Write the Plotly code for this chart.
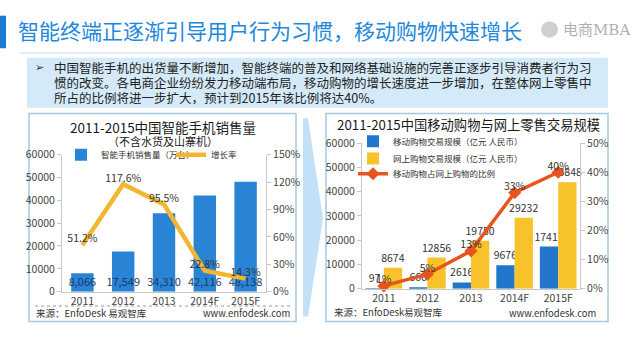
import plotly.graph_objects as go

# ---------------- data ----------------
years = ["2011", "2012", "2013", "2014F", "2015F"]
phone_sales = [8066, 17549, 34310, 42116, 48138]          # 万台
phone_growth = [51.2, 117.6, 95.5, 22.8, 14.3]             # %
mobile_trade = [97, 666, 2616, 9676, 17417]                # 亿元
online_trade = [8674, 12856, 19750, 29232, 43848]          # 亿元
mobile_share = [1, 5, 13, 33, 40]                          # %

left_y_ticks = [0, 10000, 20000, 30000, 40000, 50000, 60000]

W, H = 640, 360
FONT = "Noto Sans CJK SC, Noto Sans, sans-serif"


def px(x):
    return x / W


def py(y):
    return 1 - y / H


BLUE = "#2a84d6"
BLUE2 = "#2277cc"
GOLD = "#f2b630"
YELLOW = "#f7c22a"
RED = "#e8541e"

fig = go.Figure()

# ---- left chart ----
fig.add_trace(go.Bar(
    x=years, y=phone_sales, name="智能手机销售量（万台）",
    marker=dict(color=BLUE, line=dict(width=0)), width=0.55,
    text=[f"{v:,}" for v in phone_sales], textposition="inside",
    insidetextanchor="start", constraintext="none", textangle=0,
    textfont=dict(size=11, color="#1b3a66", family=FONT),
    xaxis="x", yaxis="y", legend="legend",
))
fig.add_trace(go.Scatter(
    x=years, y=phone_growth, name="增长率", mode="lines",
    line=dict(color=GOLD, width=4.5),
    xaxis="x", yaxis="y2", legend="legend5",
))
fig.add_trace(go.Scatter(
    x=years, y=phone_growth, mode="text", showlegend=False,
    text=[f"{v:.1f}%" for v in phone_growth], textposition="top center",
    textfont=dict(size=10.5, color="#333", family=FONT), cliponaxis=False,
    xaxis="x", yaxis="y2", hoverinfo="skip",
))

# ---- right chart ----
fig.add_trace(go.Bar(
    x=years, y=mobile_trade, name="移动购物交易规模（亿元 人民币）",
    marker=dict(color=BLUE2, line=dict(width=0)), width=0.42, offset=-0.42,
    text=[str(v) for v in mobile_trade], textposition="outside",
    constraintext="none", textangle=0, cliponaxis=False,
    textfont=dict(size=10.5, color="#333", family=FONT),
    xaxis="x2", yaxis="y3", legend="legend2",
))
fig.add_trace(go.Bar(
    x=years, y=online_trade, name="网上购物交易规模（亿元 人民币）",
    marker=dict(color=YELLOW, line=dict(width=0)), width=0.42, offset=0,
    text=[str(v) for v in online_trade], textposition="outside",
    constraintext="none", textangle=0, cliponaxis=False,
    textfont=dict(size=10.5, color="#333", family=FONT),
    xaxis="x2", yaxis="y3", legend="legend3",
))
fig.add_trace(go.Scatter(
    x=years, y=mobile_share, name="移动购物占网上购物的比例",
    mode="lines+markers", line=dict(color=RED, width=3.5),
    marker=dict(symbol="diamond", size=10, color=RED),
    xaxis="x2", yaxis="y4", legend="legend4", cliponaxis=False,
))
fig.add_trace(go.Scatter(
    x=years, y=mobile_share, mode="text", showlegend=False,
    text=[f"{v}%" for v in mobile_share], textposition="top center",
    textfont=dict(size=10.5, color="#333", family=FONT), cliponaxis=False,
    xaxis="x2", yaxis="y4", hoverinfo="skip",
))

axis_common = dict(showgrid=False, zeroline=False, showline=True,
                   linecolor="#c8c8c8", linewidth=1,
                   tickfont=dict(size=10.5, color="#444", family=FONT))

shapes = [
    # header bar & underline
    dict(type="rect", xref="paper", yref="paper", x0=0, x1=px(6), y0=py(42), y1=py(8),
         fillcolor="#1a7ad4", line=dict(width=0)),
    dict(type="line", xref="paper", yref="paper", x0=px(20), x1=px(600), y0=py(47), y1=py(47),
         line=dict(color="#bcdcf2", width=1)),
    # logo circle
    dict(type="circle", xref="paper", yref="paper", x0=px(541), x1=px(558), y0=py(31), y1=py(14),
         fillcolor="#cfcfcf", line=dict(width=0)),
    # text box
    dict(type="rect", xref="paper", yref="paper", x0=px(27), x1=px(608), y0=py(104), y1=py(52),
         fillcolor="#d4eaf8", line=dict(width=0), layer="below"),
    # panels
    dict(type="rect", xref="paper", yref="paper", x0=px(29), x1=px(296), y0=py(327), y1=py(110),
         fillcolor="white", line=dict(color="#a6c8e4", width=1.5), layer="below"),
    dict(type="rect", xref="paper", yref="paper", x0=px(326), x1=px(608), y0=py(327), y1=py(110),
         fillcolor="white", line=dict(color="#a6c8e4", width=1.5), layer="below"),
    # chevron arrow
    dict(type="path", xref="paper", yref="paper",
         path=(f"M {px(303)},{py(115)} L {px(308)},{py(115)} L {px(323)},{py(220)} "
               f"L {px(308)},{py(322)} L {px(303)},{py(322)} Z"),
         fillcolor="#c2e1f8", line=dict(width=0), layer="below"),
    # dotted line above source (left)
    dict(type="line", xref="paper", yref="paper", x0=px(35), x1=px(292), y0=py(311), y1=py(311),
         line=dict(color="#9a9a9a", width=1, dash="dot")),
]

ann = []


def A(text, x, y, size, color="#222", xanchor="left", family=FONT, yanchor="middle"):
    ann.append(dict(text=text, x=px(x), y=py(y), xref="paper", yref="paper",
                    xanchor=xanchor, yanchor=yanchor, showarrow=False,
                    font=dict(size=size, color=color, family=family)))


A("智能终端正逐渐引导用户行为习惯，移动购物快速增长", 16, 23, 21, "#2288dd")
A("电商MBA", 561, 23, 15, "#b0b0b0", family="DejaVu Serif, Noto Sans CJK SC")
A("➢", 33, 62, 11, "#333", family="DejaVu Sans")
A("中国智能手机的出货量不断增加，智能终端的普及和网络基础设施的完善正逐步引导消费者行为习", 52, 62, 12.5)
A("惯的改变。各电商企业纷纷发力移动端布局，移动购物的增长速度进一步增加，在整体网上零售中", 52, 78, 12.5)
A("所占的比例将进一步扩大，预计到2015年该比例将达40%。", 52, 93, 12.5)
A("2011-2015中国智能手机销售量", 163, 124, 13.5, "#1a1a1a", "center")
A("（不含水货及山寨机）", 163, 139, 11, "#1a1a1a", "center")
A("2011-2015中国移动购物与网上零售交易规模", 468, 122, 13.3, "#1a1a1a", "center")
A("来源：EnfoDesk 易观智库", 34, 318, 9.5, "#333")
A("www.enfodesk.com", 292, 318, 9.5, "#333", "right")
A("来源：EnfoDesk易观智库", 332, 317, 9.5, "#333")
A("www.enfodesk.com", 598, 318, 9.5, "#333", "right")


def leg(x, y):
    return dict(orientation="v", x=px(x), y=py(y), xanchor="left", yanchor="middle",
                font=dict(size=8.5, color="#333", family=FONT), bgcolor="rgba(0,0,0,0)",
                itemwidth=30)


fig.update_layout(
    width=W, height=H, margin=dict(l=0, r=0, t=0, b=0),
    paper_bgcolor="white", plot_bgcolor="rgba(0,0,0,0)",
    font=dict(family=FONT, color="#333"),
    barmode="overlay",
    shapes=shapes, annotations=ann,
    xaxis=dict(domain=[px(62), px(266)], anchor="y", type="category",
               range=[-0.5, 4.5], ticks="", **axis_common),
    yaxis=dict(domain=[py(296), py(153)], anchor="x", range=[0, 60000],
               tickvals=left_y_ticks, tickformat="d", ticks="outside", ticklen=4,
               tickcolor="#c8c8c8", **axis_common),
    yaxis2=dict(overlaying="y", side="right", anchor="x", range=[0, 150],
                tick0=0, dtick=30, ticksuffix="%", ticks="outside", ticklen=4,
                tickcolor="#c8c8c8", **axis_common),
    xaxis2=dict(domain=[px(362), px(580)], anchor="y3", type="category",
                range=[-0.5, 4.5], ticks="", **axis_common),
    yaxis3=dict(domain=[py(293), py(141)], anchor="x2", range=[0, 60000],
                tickvals=left_y_ticks, tickformat="d", ticks="outside", ticklen=4,
                tickcolor="#c8c8c8", **axis_common),
    yaxis4=dict(overlaying="y3", side="right", anchor="x2", range=[0, 50],
                tick0=0, dtick=10, ticksuffix="%", ticks="outside", ticklen=4,
                tickcolor="#c8c8c8", **axis_common),
    legend=leg(61, 153),
    legend5=leg(171, 153),
    legend2=leg(353, 139),
    legend3=leg(353, 157),
    legend4=leg(353, 173),
    showlegend=True,
)

fig.write_html("out.html", config={"displayModeBar": False},
               post_script="document.body.style.margin='0';")
